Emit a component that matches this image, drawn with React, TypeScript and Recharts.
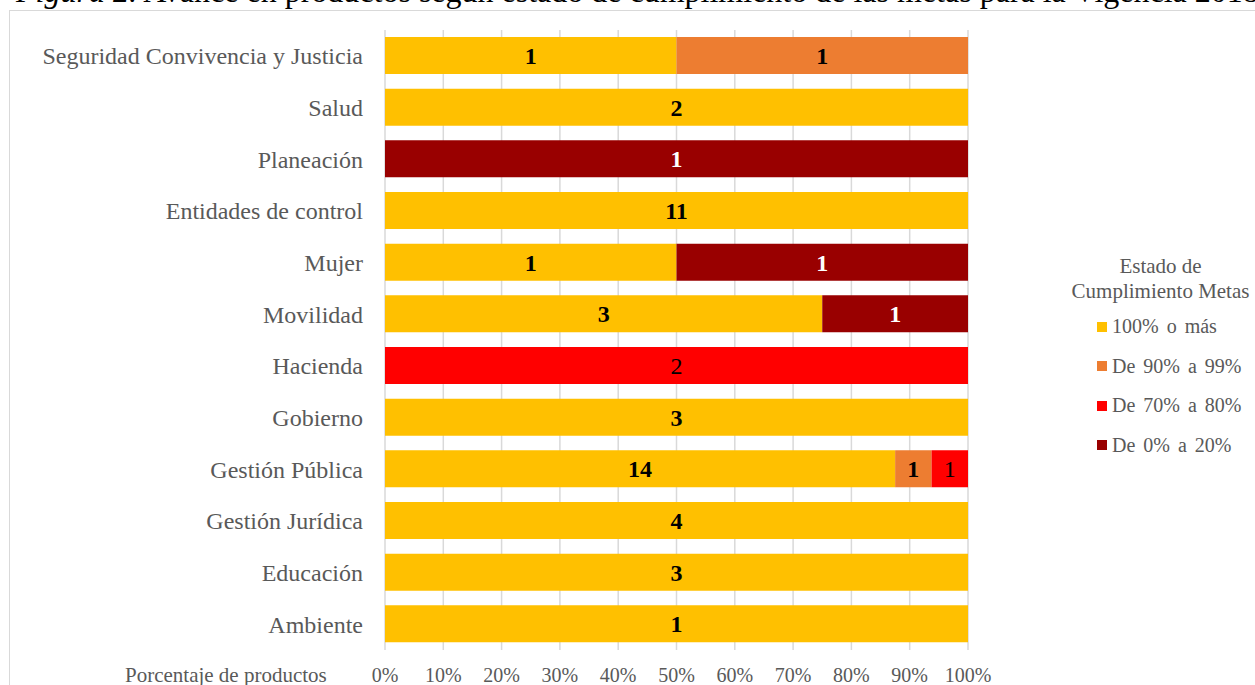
import React from 'react';
import { BarChart, Bar, XAxis, YAxis, CartesianGrid, Legend, LabelList } from 'recharts';

const categories = [
  'Seguridad Convivencia y Justicia',
  'Salud',
  'Planeación',
  'Entidades de control',
  'Mujer',
  'Movilidad',
  'Hacienda',
  'Gobierno',
  'Gestión Pública',
  'Gestión Jurídica',
  'Educación',
  'Ambiente',
];

// número de productos por estado de cumplimiento
const cumple100 = [1, 2, 0, 11, 1, 3, 0, 3, 14, 4, 3, 1];
const de90a99 = [1, 0, 0, 0, 0, 0, 0, 0, 1, 0, 0, 0];
const de70a80 = [0, 0, 0, 0, 0, 0, 2, 0, 1, 0, 0, 0];
const de0a20 = [0, 0, 1, 0, 1, 1, 0, 0, 0, 0, 0, 0];

const xTicks = [0, 0.1, 0.2, 0.3, 0.4, 0.5, 0.6, 0.7, 0.8, 0.9, 1];

const series = [
  { key: 'c100', name: '100% o más', color: '#FFC000', labelColor: '#000', bold: true },
  { key: 'c90', name: 'De 90% a 99%', color: '#ED7D31', labelColor: '#000', bold: true },
  { key: 'c70', name: 'De 70% a 80%', color: '#FF0000', labelColor: '#000', bold: false },
  { key: 'c0', name: 'De 0% a 20%', color: '#990000', labelColor: '#fff', bold: true },
];

const data = categories.map((name, i) => ({
  name,
  c100: cumple100[i],
  c90: de90a99[i],
  c70: de70a80[i],
  c0: de0a20[i],
}));

const serif = '"Liberation Serif", "Times New Roman", serif';
const gray = '#595959';

const LegendBox = () => (
  <div style={{ fontFamily: serif, color: gray, width: 217 }}>
    <div style={{ textAlign: 'center', fontSize: 21, lineHeight: '25px', marginBottom: 3 }}>
      Estado de<br />Cumplimiento Metas
    </div>
    {series.map((s) => (
      <div key={s.key} style={{ display: 'flex', alignItems: 'center', height: 39.5, paddingLeft: 45 }}>
        <span style={{ width: 10, height: 10, background: s.color, marginRight: 5 }} />
        <span style={{ fontSize: 20, wordSpacing: 3 }}>{s.name}</span>
      </div>
    ))}
  </div>
);

const App: React.FC = () => {
  return (
    <div style={{ position: 'fixed', left: 0, top: 0, width: 1255, height: 685, overflow: 'hidden', background: '#fff' }}>
      {/* título cortado arriba */}
      <div
        style={{
          position: 'absolute', left: 16, top: -29, fontFamily: serif, fontSize: 32,
          lineHeight: '40px', whiteSpace: 'nowrap', color: '#000',
        }}
      >
        <i>Figura 2.</i> Avance en productos según estado de cumplimiento de las metas para la Vigencia 2018
      </div>

      {/* marco del gráfico */}
      <div style={{ position: 'absolute', left: 9, top: 10, width: 1400, height: 800, border: '1px solid #d9d9d9' }} />

      <div style={{ position: 'absolute', left: 0, top: 0 }}>
        <BarChart
          width={1255}
          height={685}
          data={data}
          layout="vertical"
          stackOffset="expand"
          barSize={37}
          margin={{ top: 30, right: 287, bottom: 0, left: 10 }}
        >
          <CartesianGrid horizontal={false} stroke="#d9d9d9" strokeWidth={1.5} />
          <XAxis
            type="number"
            domain={[0, 1]}
            ticks={xTicks}
            interval={0}
            tickFormatter={(v: number) => `${Math.round(v * 100)}%`}
            axisLine={false}
            tickLine={false}
            tickSize={0}
            tickMargin={18}
            height={35}
            tick={{ fontSize: 20, fill: gray, fontFamily: serif }}
          />
          <YAxis
            type="category"
            dataKey="name"
            width={375}
            axisLine={false}
            tickLine={false}
            tickSize={0}
            tickMargin={22}
            interval={0}
            tick={{ fontSize: 24, fill: gray, fontFamily: serif }}
          />
          <Legend
            layout="vertical"
            align="center"
            verticalAlign="middle"
            wrapperStyle={{ left: 1052, top: 254, width: 217 }}
            content={() => <LegendBox />}
          />
          {series.map((s) => (
            <Bar key={s.key} dataKey={s.key} name={s.name} stackId="a" fill={s.color} isAnimationActive={false}>
              <LabelList
                dataKey={s.key}
                position="center"
                formatter={(v: any) => (Number(v) > 0 ? v : '')}
                fill={s.labelColor}
                fontSize={24}
                fontWeight={s.bold ? 'bold' : 'normal'}
                fontFamily={serif}
              />
            </Bar>
          ))}
        </BarChart>
      </div>

      <div
        style={{
          position: 'absolute', left: 125, top: 663, fontFamily: serif, fontSize: 21,
          color: gray, whiteSpace: 'nowrap', lineHeight: '24px',
        }}
      >
        Porcentaje de productos
      </div>
    </div>
  );
};

export default App;
